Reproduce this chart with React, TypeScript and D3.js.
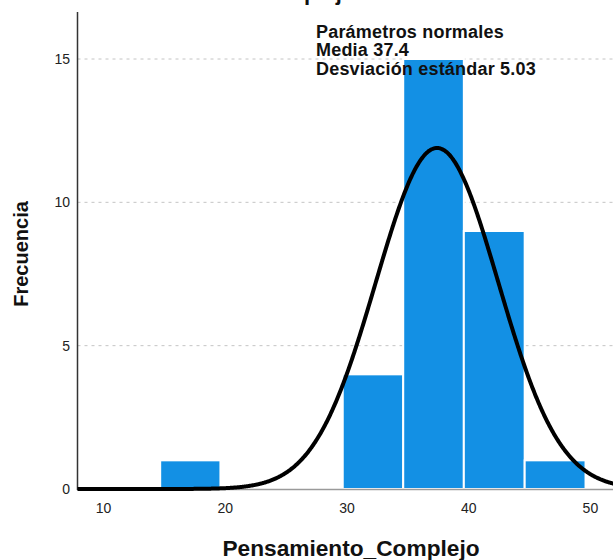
import React from 'react';
import * as d3 from 'd3';

// histogram bins (lower / upper edge, frequency)
const binLo = [14.65, 29.65, 34.62, 39.6, 44.6];
const binHi = [19.6, 34.62, 39.6, 44.6, 49.6];
const counts = [1, 4, 15, 9, 1];

const xTicks = [10, 20, 30, 40, 50];
const yTicks = [0, 5, 10, 15];
const gridTicks = [5, 10, 15];

// normal parameters shown in the legend
const mean = 37.4;
const sd = 5.03;
const total = 30;
const interval = 5;

const legendLines = ['Parámetros normales', 'Media 37.4', 'Desviación estándar 5.03'];

const FONT = '"Liberation Sans", Arial, sans-serif';

const App: React.FC = () => {
  const width = 613;
  const height = 560;
  const left = 77.5;
  const top = 12;

  const x = d3.scaleLinear().domain([10, 50]).range([103.6, 590.4]);
  const y = d3.scaleLinear().domain([0, 15]).range([489, 59]);

  // fitted normal curve, scaled to frequency
  const density = (v: number) =>
    (total * interval) / (sd * Math.sqrt(2 * Math.PI)) * Math.exp(-0.5 * ((v - mean) / sd) ** 2);
  const curvePts = d3.range(x.invert(left), x.invert(width + 2), 0.05);
  const line = d3.line<number>()
    .x(d => x(d))
    .y(d => y(density(d)))
    .curve(d3.curveBasis);

  return (
    <div style={{ position: 'fixed', left: 0, top: 0 }}>
      <svg width={width} height={height} style={{ display: 'block', background: '#fff' }}>
        {/* title, cut off at the top as in the source */}
        <text x={112} y={-0.5} fontFamily={FONT} fontWeight="bold" fontSize={22} fill="#111">
          Pensamiento Complejo
        </text>

        {/* grid */}
        {gridTicks.map(t => (
          <line key={t} x1={left} x2={width} y1={y(t)} y2={y(t)}
            stroke="#c4c4c4" strokeWidth={1} strokeDasharray="3,4" />
        ))}

        {/* bars */}
        {counts.map((c, i) => (
          <rect key={i}
            x={x(binLo[i])} width={x(binHi[i]) - x(binLo[i])}
            y={y(c)} height={y(0) - y(c)}
            fill="#1390e4" stroke="#ffffff" strokeWidth={2} />
        ))}

        {/* axes */}
        <line x1={left} x2={width} y1={y(0) + 0.5} y2={y(0) + 0.5} stroke="#9a9a9a" strokeWidth={1.5} />
        <line x1={left} x2={left} y1={top} y2={y(0) + 1} stroke="#333" strokeWidth={1.5} />

        {/* normal curve */}
        <path d={line(curvePts) || ''} fill="none" stroke="#000" strokeWidth={4} />

        {/* tick labels */}
        {yTicks.map(t => (
          <text key={t} x={70} y={y(t)} dy="0.35em" textAnchor="end"
            fontFamily={FONT} fontSize={14} fill="#222">{t}</text>
        ))}
        {xTicks.map(t => (
          <text key={t} x={x(t)} y={513} textAnchor="middle"
            fontFamily={FONT} fontSize={14} fill="#222">{t}</text>
        ))}

        {/* axis titles */}
        <text transform="translate(28,254) rotate(-90)" textAnchor="middle"
          fontFamily={FONT} fontWeight="bold" fontSize={20} fill="#111">Frecuencia</text>
        <text x={351} y={556} textAnchor="middle"
          fontFamily={FONT} fontWeight="bold" fontSize={22.7} fill="#111">Pensamiento_Complejo</text>

        {/* legend */}
        {legendLines.map((s, i) => (
          <text key={i} x={316} y={37.5 + i * 18.5} letterSpacing={0.2}
            fontFamily={FONT} fontWeight="bold" fontSize={18} fill="#111">{s}</text>
        ))}
      </svg>
    </div>
  );
};

export default App;
